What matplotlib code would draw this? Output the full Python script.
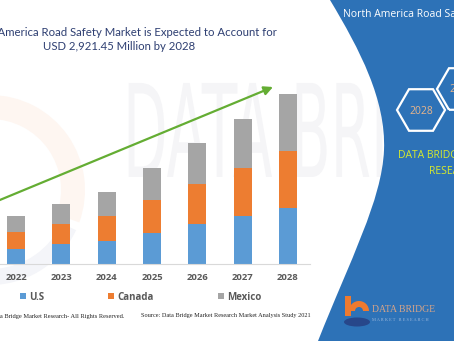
import numpy as np
import matplotlib
matplotlib.use("Agg")
import matplotlib.pyplot as plt
from matplotlib.path import Path
from matplotlib.patches import PathPatch, RegularPolygon, Wedge, Rectangle, Ellipse
from matplotlib.textpath import TextPath
from matplotlib.font_manager import FontProperties
from matplotlib.transforms import Affine2D

# market size, USD million
years = ["2022", "2023", "2024", "2025", "2026", "2027", "2028"]
us = [268, 349, 405, 543, 692, 835, 973]
canada = [282, 344, 430, 567, 692, 825, 974]
mexico = [280, 344, 407, 550, 700, 837, 974.45]

blue, orange, grey = "#5b9bd5", "#ed7d31", "#a5a5a5"
panel = "#2d72b7"

fig = plt.figure(figsize=(4.54, 3.41), dpi=100)

# background layer in pixel coordinates
bg = fig.add_axes([0, 0, 1, 1], zorder=0)
bg.set_xlim(0, 454)
bg.set_ylim(341, 0)
bg.axis("off")

# faint logo watermark on the left
bg.add_patch(Wedge((-10, 190), 95, -90, 20, width=24, color="#fef6f1", lw=0))
bg.add_patch(Wedge((-10, 190), 95, 25, 85, width=16, color="#f4f5f9", lw=0))

# faint "DATA BRIDGE" watermark
tp = TextPath((0, 0), "DATA BRIDGE", size=100, prop=FontProperties(family="DejaVu Sans"))
tp = Affine2D().scale(0.58, -1.29).translate(123, 177).transform_path(tp)
bg.add_patch(PathPatch(tp, fc="#f5f5f7", ec="none"))

# blue panel on the right with curved edge
verts = [(330, 0), (360, 50), (386, 100), (384, 150),
         (382, 200), (350, 260), (318, 341),
         (454, 341), (454, 0), (330, 0)]
codes = [Path.MOVETO, Path.CURVE4, Path.CURVE4, Path.CURVE4,
         Path.CURVE4, Path.CURVE4, Path.CURVE4,
         Path.LINETO, Path.LINETO, Path.CLOSEPOLY]
bg.add_patch(PathPatch(Path(verts, codes), fc=panel, ec="none", zorder=2))

bg.text(343, 14, "North America Road Safety Market", color="white", fontsize=7.5,
        family="Open Sans", va="center", ha="left", zorder=3)

for cx, cy, lab in [(421, 110, "2028"), (461, 89, "2021")]:
    bg.add_patch(RegularPolygon((cx, cy), 6, radius=24, orientation=np.pi / 6,
                                fc="none", ec="white", lw=1.6, zorder=3))
    bg.text(cx, cy + 1, lab, color="#e8b58c", fontsize=7.5, family="Open Sans",
            ha="center", va="center", zorder=3)

bg.text(398, 156, "DATA BRIDGE MARKET", color="#d7ea2c", fontsize=7.5,
        family="Open Sans", ha="left", va="center", zorder=3)
bg.text(429, 171, "RESEARCH", color="#d7ea2c", fontsize=7.5,
        family="Open Sans", ha="left", va="center", zorder=3)

# logo bottom right
bg.add_patch(Rectangle((345, 296), 6, 20, color="#ee7a2e", lw=0, zorder=3))
bg.add_patch(Wedge((359, 311), 10, 180, 360, width=6, color="#ee7a2e", lw=0, zorder=3))
bg.add_patch(Ellipse((357, 322), 26, 9, color="#27478a", lw=0, zorder=3))
bg.text(372, 309, "DATA BRIDGE", color="#d6a489", fontsize=7, family="Liberation Serif",
        ha="left", va="center", zorder=3)
bg.text(372, 320, "M A R K E T   R E S E A R C H", color="#9bb7dc", fontsize=3.2,
        family="Liberation Serif", ha="left", va="center", zorder=3)

# title
bg.text(121, 32, "North America Road Safety Market is Expected to Account for",
        color="#2e3f72", fontsize=8.2, family="Lato", ha="center", va="center", zorder=3)
bg.text(119, 46, "USD 2,921.45 Million by 2028",
        color="#2e3f72", fontsize=8.2, family="Lato", ha="center", va="center", zorder=3)

# footer
bg.text(125, 316, "© Data Bridge Market Research- All Rights Reserved.", color="#222222",
        fontsize=4.6, family="Liberation Serif", ha="right", va="center", zorder=3)
bg.text(141, 316, "Source: Data Bridge Market Research Market Analysis Study 2021",
        color="#222222", fontsize=4.5, family="Liberation Serif", ha="left", va="center", zorder=3)

# bar chart
ax = fig.add_axes([0, (341 - 264.3) / 341, 310 / 454, (264.3 - 80) / 341], zorder=1)
ax.patch.set_alpha(0)
x = np.arange(len(years))
b1 = ax.bar(x, us, width=0.4, color=blue, label="U.S")
b2 = ax.bar(x, canada, width=0.4, bottom=us, color=orange, label="Canada")
b3 = ax.bar(x, mexico, width=0.4, bottom=np.add(us, canada), color=grey, label="Mexico")
ax.set_xlim(-16 / 45.33, (310 - 16) / 45.33)
ax.set_ylim(0, (264.3 - 80) * 2921.45 / 170)
ax.set_xticks(x)
ax.set_xticklabels(years, fontsize=6.8, family="Open Sans", fontweight="bold", color="#595959")
ax.set_yticks([])
ax.tick_params(axis="x", length=0, pad=6)
for s in ["top", "left", "right"]:
    ax.spines[s].set_visible(False)
ax.spines["bottom"].set_color("#d9d9d9")
ax.spines["bottom"].set_linewidth(0.8)

leg = fig.legend(handles=[b1, b2, b3], loc="center left", bbox_to_anchor=(11 / 454, 1 - 297 / 341),
                 ncol=3, frameon=False, handlelength=0.6, handleheight=0.6, handletextpad=0.35,
                 columnspacing=6.6, prop={"family": "Open Sans", "weight": "bold", "size": 7})
for t in leg.get_texts():
    t.set_color("#595959")

# growth arrow
bg2 = fig.add_axes([0, 0, 1, 1], zorder=2)
bg2.set_xlim(0, 454)
bg2.set_ylim(341, 0)
bg2.axis("off")
bg2.annotate("", xy=(273, 87), xytext=(-5, 202),
             arrowprops=dict(arrowstyle="-|>", color="#64ad33", lw=1.6, mutation_scale=13,
                             shrinkA=0, shrinkB=0))

fig.savefig("out.png", dpi=100)
